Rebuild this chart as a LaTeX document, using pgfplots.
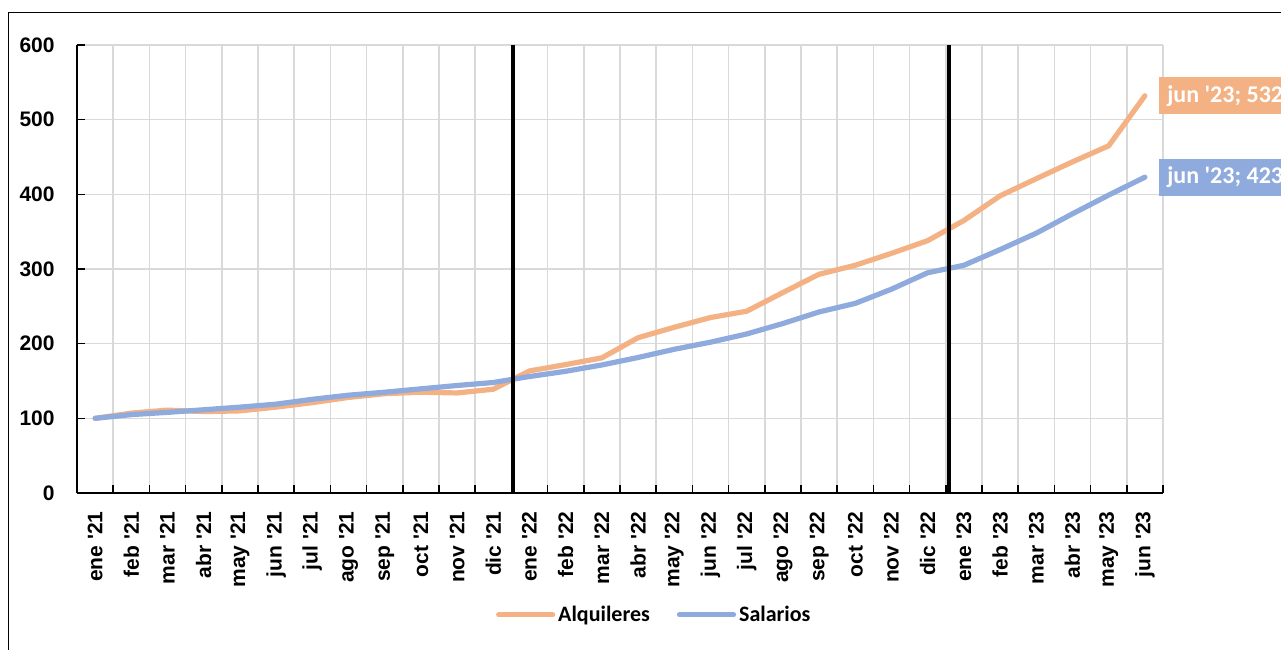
\documentclass[border=0pt]{standalone}
\usepackage{fontspec}
\setmainfont{Liberation Sans}
\newfontfamily\carlito{Carlito}
\usepackage{pgfplots}
\pgfplotsset{compat=1.18}
\definecolor{alq}{HTML}{F4B183}
\definecolor{sal}{HTML}{8FAADC}
\definecolor{gridc}{HTML}{D9D9D9}
\newcommand{\q}{\textquotesingle}
\begin{document}
\begin{tikzpicture}
\useasboundingbox (-38.5pt,-78pt) rectangle (602pt,246.5pt);
\clip (-38.5pt,-78pt) rectangle (602pt,246.5pt);
\draw[black, line width=0.9pt] (-34.25pt,-100pt) -- (-34.25pt,240.25pt) -- (700pt,240.25pt);
\begin{axis}[
  at={(0pt,0pt)}, anchor=south west,
  scale only axis, width=543pt, height=224pt,
  xmin=-0.5, xmax=29.5, ymin=0, ymax=600,
  clip=false,
  axis x line*=bottom, axis y line*=left,
  axis line style={black, line width=0.75pt},
  tick align=inside,
  xtick={0,...,29},
  xticklabels={ene \q21,feb \q21,mar \q21,abr \q21,may \q21,jun \q21,jul \q21,ago \q21,sep \q21,oct \q21,nov \q21,dic \q21,
               ene \q22,feb \q22,mar \q22,abr \q22,may \q22,jun \q22,jul \q22,ago \q22,sep \q22,oct \q22,nov \q22,dic \q22,
               ene \q23,feb \q23,mar \q23,abr \q23,may \q23,jun \q23},
  major x tick style={draw=none},
  minor xtick={-0.5,0.5,...,29.5},
  xminorgrids=true,
  minor tick length=4pt,
  major tick length=4pt,
  tick style={black, line width=0.75pt},
  ytick={0,100,...,600},
  ymajorgrids=true,
  major grid style={gridc, line width=0.75pt},
  minor grid style={gridc, line width=0.75pt},
  xticklabel style={rotate=90, anchor=east, inner sep=0pt, font=\bfseries\fontsize{10.5}{12}\selectfont},
  xticklabel shift=9pt,
  yticklabel style={anchor=east, inner sep=0pt, font=\bfseries\fontsize{10.5}{12}\selectfont},
  yticklabel shift=11pt,
  /pgf/number format/assume math mode=true,
  legend style={draw=none, fill=none, at={(0.532,-0.272)}, anchor=center,
    legend columns=2, font=\carlito\bfseries\fontsize{11}{13}\selectfont,
    /tikz/every even column/.append style={column sep=12pt},
    nodes={inner sep=1.5pt}},
  legend image code/.code={\draw[#1] (0pt,0pt) -- (27pt,0pt);},
]
\addplot[alq, line width=2.6pt, line cap=round, line join=round] coordinates {
(0,100) (1,107) (2,111) (3,109) (4,110) (5,115) (6,121) (7,128) (8,133) (9,135)
(10,134) (11,139) (12,163.5) (13,172) (14,181) (15,208) (16,222) (17,235) (18,243.5) (19,268.5)
(20,293) (21,305) (22,321) (23,338) (24,365) (25,398) (26,421) (27,443.5) (28,465) (29,532)};
\addlegendentry{Alquileres}
\addplot[sal, line width=2.6pt, line cap=round, line join=round] coordinates {
(0,100) (1,105) (2,108) (3,111.5) (4,115) (5,119) (6,125.5) (7,131) (8,135) (9,139.5)
(10,144) (11,148) (12,156) (13,163) (14,171.5) (15,181.5) (16,192.5) (17,202) (18,213) (19,227)
(20,242.5) (21,254) (22,273) (23,295) (24,305) (25,326) (26,348) (27,374) (28,399) (29,423)};
\addlegendentry{Salarios}
\addplot[black, line width=2pt, forget plot] coordinates {(11.54,0) (11.54,600)};
\addplot[black, line width=2pt, forget plot] coordinates {(23.58,0) (23.58,600)};
\node[fill=alq, text=white, font=\carlito\bfseries\fontsize{12}{14}\selectfont, anchor=west,
  minimum height=18.5pt, inner xsep=4pt, inner ysep=0pt, xshift=7pt] at (axis cs:29,532) {jun \q23; 532};
\node[fill=sal, text=white, font=\carlito\bfseries\fontsize{12}{14}\selectfont, anchor=west,
  minimum height=18.5pt, inner xsep=4pt, inner ysep=0pt, xshift=7pt] at (axis cs:29,423) {jun \q23; 423};
\end{axis}
\end{tikzpicture}
\end{document}
